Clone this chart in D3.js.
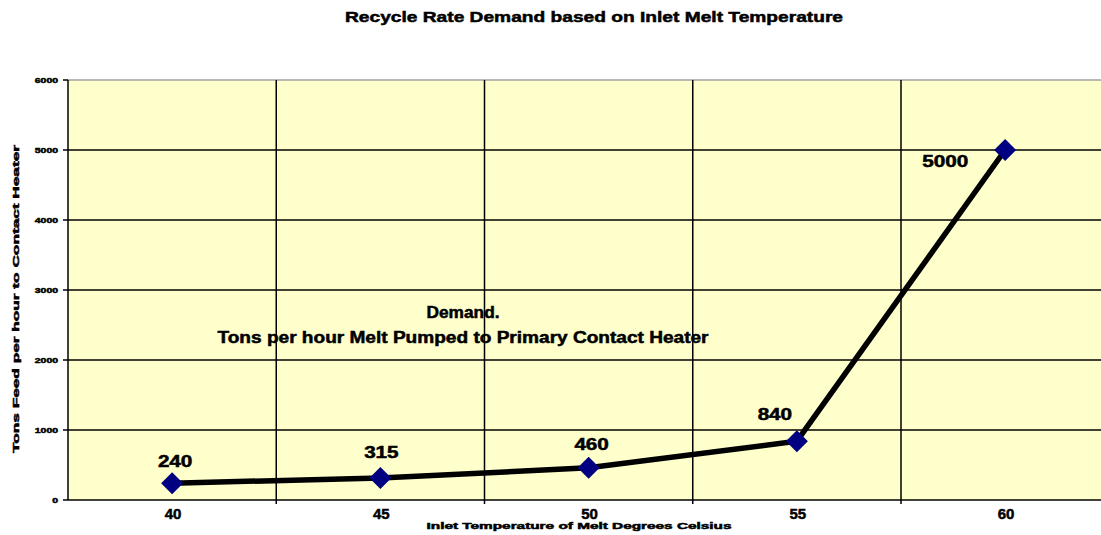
<!DOCTYPE html>
<html><head><meta charset="utf-8">
<script src="https://cdn.jsdelivr.net/npm/d3@7"></script>
<style>
html,body{margin:0;padding:0;background:#fff;overflow:hidden}
text{font-family:"Liberation Sans",Arial,sans-serif;font-weight:bold;fill:#000}
.heavy{stroke:#000;stroke-width:0.5px}
</style></head>
<body>
<svg id="chart" width="1101" height="535"></svg>
<script>
const categories = ["40", "45", "50", "55", "60"];
const demand = [240, 315, 460, 840, 5000];
const yTicks = [0, 1000, 2000, 3000, 4000, 5000, 6000];
const titleText = "Recycle Rate Demand based on Inlet Melt Temperature";
const xTitle = "Inlet Temperature of Melt Degrees Celsius";
const yTitle = "Tons Feed per hour  to Contact Heater";
const noteLines = ["Demand.", "Tons per hour Melt Pumped to Primary Contact Heater"];

(function () {
const svg = d3.select("#chart");
const plotL = 68, plotT = 80, plotB = 500, step = 208.25;
const x = d3.scaleBand().domain(categories).range([plotL, plotL + step * categories.length]).padding(0);
const y = d3.scaleLinear().domain([0, 6000]).range([plotB, plotT]);
const plotR = plotL + step * categories.length;

svg.append("rect").attr("x", plotL).attr("y", plotT).attr("width", plotR - plotL).attr("height", plotB - plotT)
  .attr("fill", "#FFFFCC");
svg.append("line").attr("x1", plotL).attr("x2", plotR).attr("y1", plotT).attr("y2", plotT)
  .attr("stroke", "#a0a0a0").attr("stroke-width", 1.5);

svg.append("g").selectAll("line").data(yTicks.filter(d => d > 0 && d < 6000)).join("line")
  .attr("x1", plotL).attr("x2", plotR).attr("y1", d => y(d)).attr("y2", d => y(d))
  .attr("stroke", "#000").attr("stroke-width", 1.5);
const bounds = categories.slice(1).map(c => x(c));
svg.append("g").selectAll("line").data(bounds).join("line")
  .attr("x1", d => d).attr("x2", d => d).attr("y1", plotT).attr("y2", plotB + 4)
  .attr("stroke", "#000").attr("stroke-width", 1.5);

svg.append("line").attr("x1", plotL).attr("x2", plotR).attr("y1", plotB).attr("y2", plotB)
  .attr("stroke", "#000").attr("stroke-width", 1.5);
svg.append("line").attr("x1", plotL).attr("x2", plotL).attr("y1", plotT).attr("y2", plotB)
  .attr("stroke", "#000").attr("stroke-width", 1.5);

const yAxisG = svg.append("g");
yAxisG.selectAll("line").data(yTicks).join("line")
  .attr("x1", plotL - 5).attr("x2", plotL).attr("y1", d => y(d)).attr("y2", d => y(d))
  .attr("stroke", "#000").attr("stroke-width", 1.5);
yAxisG.selectAll("text").data(yTicks).join("text")
  .attr("x", 58).attr("y", d => y(d) + 3)
  .attr("text-anchor", "end").attr("font-size", 8).attr("class", "heavy")
  .attr("textLength", d => String(d).length * 5.8).attr("lengthAdjust", "spacingAndGlyphs")
  .text(d => d);

svg.append("g").selectAll("text").data(categories).join("text")
  .attr("x", d => x(d) + x.bandwidth() / 2 + 1).attr("y", 519)
  .attr("text-anchor", "middle").attr("font-size", 15).attr("class", "heavy")
  .text(d => d);

svg.append("text").attr("x", 594).attr("y", 22).attr("text-anchor", "middle").attr("class", "heavy")
  .attr("font-size", 15).attr("textLength", 498).attr("lengthAdjust", "spacingAndGlyphs")
  .text(titleText);
svg.append("text").attr("x", 579).attr("y", 529).attr("text-anchor", "middle").attr("class", "heavy")
  .attr("font-size", 9).attr("textLength", 305).attr("lengthAdjust", "spacingAndGlyphs")
  .text(xTitle);
svg.append("text").attr("transform", "translate(19,299) rotate(-90)").attr("text-anchor", "middle").attr("class", "heavy")
  .attr("font-size", 9).attr("textLength", 308).attr("lengthAdjust", "spacingAndGlyphs")
  .text(yTitle);

svg.append("text").attr("x", 463).attr("y", 318).attr("text-anchor", "middle").attr("class", "heavy")
  .attr("font-size", 16).attr("textLength", 73).attr("lengthAdjust", "spacingAndGlyphs")
  .text(noteLines[0]);
svg.append("text").attr("x", 463).attr("y", 343).attr("text-anchor", "middle").attr("class", "heavy")
  .attr("font-size", 16).attr("textLength", 491).attr("lengthAdjust", "spacingAndGlyphs")
  .text(noteLines[1]);

const pts = categories.map((c, i) => [x(c) + x.bandwidth() / 2, y(demand[i])]);
svg.append("path").datum(pts).attr("d", d3.line())
  .attr("fill", "none").attr("stroke", "#000").attr("stroke-width", 5.5).attr("stroke-linejoin", "miter");

svg.append("g").selectAll("path").data(pts).join("path")
  .attr("d", d => `M${d[0]},${d[1] - 11}L${d[0] + 11},${d[1]}L${d[0]},${d[1] + 11}L${d[0] - 11},${d[1]}Z`)
  .attr("fill", "#000080");

const labelOffsets = [[3, -16], [1, -20], [3, -18], [-22, -21], [-60, 17]];
svg.append("g").selectAll("text").data(pts).join("text")
  .attr("x", (d, i) => d[0] + labelOffsets[i][0]).attr("y", (d, i) => d[1] + labelOffsets[i][1])
  .attr("text-anchor", "middle").attr("font-size", 16).attr("class", "heavy")
  .attr("textLength", (d, i) => String(demand[i]).length * 11.5).attr("lengthAdjust", "spacingAndGlyphs")
  .text((d, i) => demand[i]);
})();
</script>
</body></html>
